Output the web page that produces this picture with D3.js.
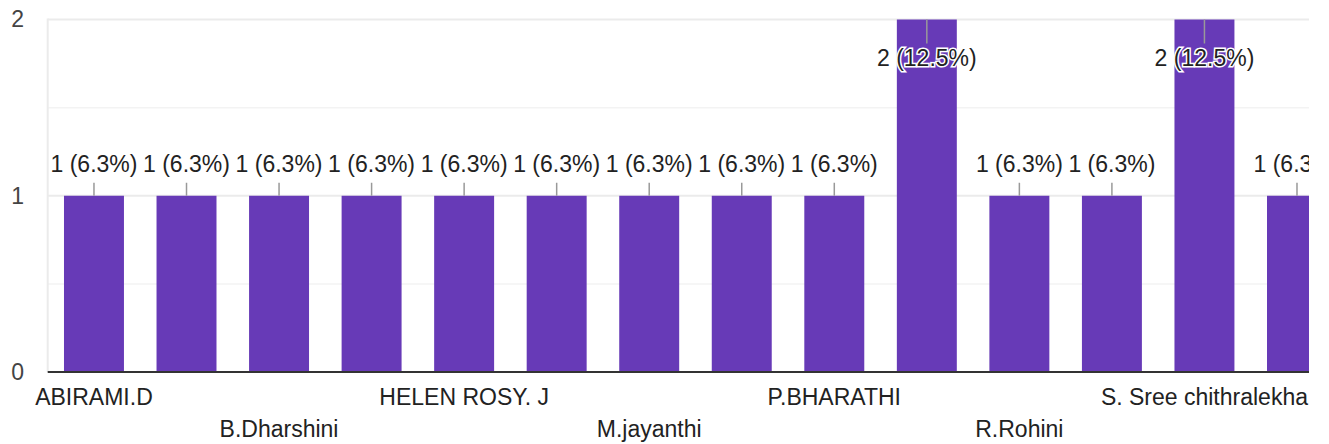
<!DOCTYPE html>
<html>
<head>
<meta charset="utf-8">
<script src="https://cdn.jsdelivr.net/npm/d3@7"></script>
<style>
  body { margin: 0; background: #fff; }
  svg { display: block; font-family: Arial, "Liberation Sans", sans-serif; }
</style>
</head>
<body>
<script>
// names that the reference does not show are left blank
const names = ["ABIRAMI.D", "", "B.Dharshini", "", "HELEN ROSY. J", "", "M.jayanthi", "",
               "P.BHARATHI", "", "R.Rohini", "", "S. Sree chithralekha", ""];
const counts = [1, 1, 1, 1, 1, 1, 1, 1, 1, 2, 1, 1, 2, 1];
const yTicks = [0, 1, 2];

const total = d3.sum(counts);
const w = 1309, h = 444;
const plotLeft = 47.7, plotTop = 19.5, plotBottom = 372;

const svg = d3.select("body")
              .append("svg")
              .attr("width", w)
              .attr("height", h)
              .style("overflow", "hidden");

const x = d3.scaleBand()
            .domain(d3.range(counts.length))
            .range([plotLeft, plotLeft + 92.54 * counts.length])
            .paddingInner(0.352)
            .paddingOuter(0.176);

const y = d3.scaleLinear()
            .domain([0, 2])
            .range([plotBottom, plotTop]);

// half-step grid lines
svg.selectAll("line.minor")
   .data([0.5, 1.5])
   .enter()
   .append("line")
   .attr("x1", plotLeft).attr("x2", w)
   .attr("y1", d => y(d)).attr("y2", d => y(d))
   .attr("stroke", "#f3f3f3")
   .attr("stroke-width", 1.5);

svg.selectAll("line.major")
   .data(yTicks.filter(d => d > 0))
   .enter()
   .append("line")
   .attr("x1", plotLeft).attr("x2", w)
   .attr("y1", d => y(d)).attr("y2", d => y(d))
   .attr("stroke", "#ebebeb")
   .attr("stroke-width", 2);

svg.append("line")
   .attr("x1", plotLeft).attr("x2", plotLeft)
   .attr("y1", y(2) - 1).attr("y2", plotBottom)
   .attr("stroke", "#ebebeb")
   .attr("stroke-width", 2);

// y axis labels
const yAxis = d3.axisLeft(y).tickValues(yTicks).tickFormat(d3.format("d")).tickSize(0).tickPadding(0);
svg.append("g")
   .attr("transform", "translate(24,0)")
   .call(yAxis)
   .call(g => g.select(".domain").remove())
   .selectAll("text")
   .attr("font-size", 23)
   .attr("font-family", "Arial, 'Liberation Sans', sans-serif")
   .attr("fill", "#444");

svg.selectAll("rect")
   .data(counts)
   .enter()
   .append("rect")
   .attr("x", (d, i) => x(i))
   .attr("y", d => y(d))
   .attr("width", x.bandwidth())
   .attr("height", d => plotBottom - y(d))
   .attr("fill", "#673ab7");

svg.append("line")
   .attr("x1", plotLeft).attr("x2", w)
   .attr("y1", plotBottom).attr("y2", plotBottom)
   .attr("stroke", "#333")
   .attr("stroke-width", 2);

// annotations: above the bar if it fits, otherwise inside
const inside = d => d >= 2;
const cx = i => x(i) + x.bandwidth() / 2;

svg.selectAll("line.lead")
   .data(counts)
   .enter()
   .append("line")
   .attr("x1", (d, i) => cx(i)).attr("x2", (d, i) => cx(i))
   .attr("y1", d => y(d))
   .attr("y2", d => inside(d) ? y(d) + 24 : y(d) - 13)
   .attr("stroke", "#999")
   .attr("stroke-width", 1.5);

svg.selectAll("text.ann")
   .data(counts)
   .enter()
   .append("text")
   .attr("x", (d, i) => cx(i))
   .attr("y", d => inside(d) ? y(d) + 46 : y(d) - 24)
   .attr("text-anchor", "middle")
   .attr("font-size", 23)
   .attr("fill", "#222")
   .attr("stroke", "#fff")
   .attr("stroke-width", 3)
   .attr("paint-order", "stroke")
   .text(d => d + " (" + (d / total * 100).toFixed(1) + "%)");

// category labels, staggered in two rows
svg.selectAll("text.cat")
   .data(names.map((n, i) => [n, i]).filter(d => d[0] !== ""))
   .enter()
   .append("text")
   .attr("x", d => cx(d[1]))
   .attr("y", d => (d[1] / 2) % 2 === 0 ? 405 : 437)
   .attr("text-anchor", "middle")
   .attr("font-size", 23)
   .attr("fill", "#222")
   .text(d => d[0]);
</script>
</body>
</html>
